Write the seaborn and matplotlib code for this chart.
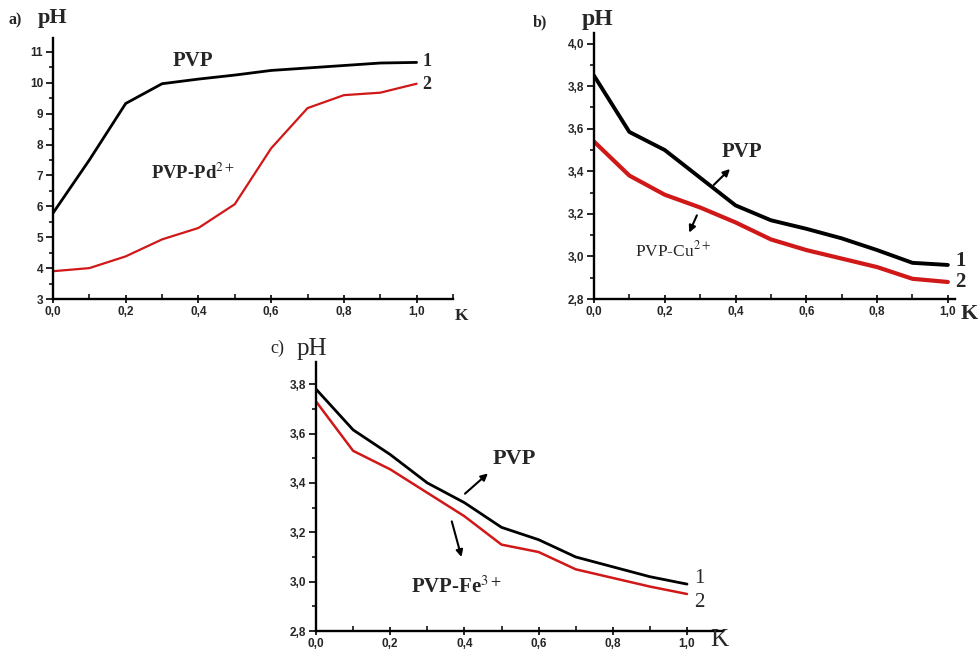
import numpy as np
import pandas as pd
import matplotlib
matplotlib.use("Agg")
import matplotlib.pyplot as plt
from matplotlib.ticker import MultipleLocator, FixedLocator, FixedFormatter
import seaborn as sns

# ---------------- data ----------------
K = [0.0, 0.1, 0.2, 0.3, 0.4, 0.5, 0.6, 0.7, 0.8, 0.9, 1.0]

a_pvp = [5.78, 7.50, 9.33, 9.97, 10.12, 10.25, 10.40, 10.48, 10.56, 10.64, 10.66]
a_pd = [3.90, 4.00, 4.38, 4.93, 5.30, 6.07, 7.88, 9.18, 9.60, 9.68, 9.97]

b_pvp = [3.85, 3.585, 3.50, 3.37, 3.24, 3.17, 3.13, 3.085, 3.03, 2.97, 2.96]
b_cu = [3.54, 3.38, 3.29, 3.23, 3.16, 3.08, 3.03, 2.99, 2.95, 2.895, 2.88]

c_pvp = [3.78, 3.615, 3.515, 3.40, 3.32, 3.22, 3.17, 3.10, 3.06, 3.02, 2.99]
c_fe = [3.73, 3.53, 3.455, 3.36, 3.265, 3.15, 3.12, 3.05, 3.015, 2.98, 2.95]

x_major = [0.0, 0.2, 0.4, 0.6, 0.8, 1.0]
x_labels = ["0,0", "0,2", "0,4", "0,6", "0,8", "1,0"]
a_yticks = [3, 4, 5, 6, 7, 8, 9, 10, 11]
a_ylabels = ["3", "4", "5", "6", "7", "8", "9", "10", "11"]
bc_yticks = [2.8, 3.0, 3.2, 3.4, 3.6, 3.8, 4.0]
b_ylabels = ["2,8", "3,0", "3,2", "3,4", "3,6", "3,8", "4,0"]
c_yticks = [2.8, 3.0, 3.2, 3.4, 3.6, 3.8]
c_ylabels = ["2,8", "3,0", "3,2", "3,4", "3,6", "3,8"]

series_names = ["1", "2"]

sns.set_style("ticks")
plt.rcParams["font.family"] = ["Liberation Serif", "DejaVu Serif"]
plt.rcParams["mathtext.fontset"] = "stix"

BLACK = "#000000"
RED = "#d01818"
TICKFONT = dict(family="Liberation Sans", weight="bold", size=8.5)
SERIF = ["Liberation Serif", "DejaVu Serif"]

fig = plt.figure(figsize=(9.79, 6.52), dpi=100)

def make_df(y1, y2):
    return pd.DataFrame({
        "K": K + K,
        "pH": y1 + y2,
        "curve": [series_names[0]] * len(K) + [series_names[1]] * len(K),
    })

def style_axes(ax, xlim, ylim, yt, yl, ymin_step, xmax_tick):
    ax.set_xlim(*xlim)
    ax.set_ylim(*ylim)
    for s in ["top", "right"]:
        ax.spines[s].set_visible(False)
    for s in ["left", "bottom"]:
        ax.spines[s].set_linewidth(1.7)
        ax.spines[s].set_color("black")
    ax.xaxis.set_major_locator(FixedLocator(x_major))
    ax.xaxis.set_major_formatter(FixedFormatter(x_labels))
    ax.xaxis.set_minor_locator(FixedLocator([0.1, 0.3, 0.5, 0.7, 0.9] + ([1.1] if xmax_tick else [])))
    ax.yaxis.set_major_locator(FixedLocator(yt))
    ax.yaxis.set_major_formatter(FixedFormatter(yl))
    ax.yaxis.set_minor_locator(MultipleLocator(ymin_step))
    ax.tick_params(axis="x", which="major", direction="inout", length=6, width=1.4, pad=2)
    ax.tick_params(axis="x", which="minor", direction="in", length=3.5, width=1.3)
    ax.tick_params(axis="y", which="major", direction="out", length=5, width=1.4, pad=2)
    ax.tick_params(axis="y", which="minor", direction="out", length=3, width=1.3)
    for lab in ax.get_xticklabels() + ax.get_yticklabels():
        lab.set_fontfamily(TICKFONT["family"])
        lab.set_fontweight(TICKFONT["weight"])
        lab.set_fontsize(TICKFONT["size"])
    ax.set_xlabel("")
    ax.set_ylabel("")
    leg = ax.get_legend()
    if leg is not None:
        leg.remove()

# ---------- panel a ----------
ax_a = fig.add_axes([0.0541, 0.5414, 0.4086, 0.4003])
sns.lineplot(data=make_df(a_pvp, a_pd), x="K", y="pH", hue="curve",
             palette={"1": BLACK, "2": RED}, ax=ax_a, legend=False)
ax_a.lines[0].set_linewidth(2.0)
ax_a.lines[1].set_linewidth(1.6)
style_axes(ax_a, (0, 1.1), (3, 11.45), a_yticks, a_ylabels, 0.5, True)
ax_a.text(0.385, 10.72, "PVP", ha="center", va="center", fontsize=15, fontweight="bold", family=SERIF)
ax_a.text(0.385, 7.1, r"PVP-Pd$^{2+}$", ha="center", va="center", fontsize=13.5, fontweight="bold", family=SERIF)
ax_a.text(1.015, 10.7, "1", ha="left", va="center", fontsize=13, fontweight="bold", family=SERIF)
ax_a.text(1.015, 9.95, "2", ha="left", va="center", fontsize=13, fontweight="bold", family=SERIF)
fig.text(9 / 979, 1 - 20 / 652, "a)", ha="left", va="center", fontsize=11.5, fontweight="bold", family=SERIF)
fig.text(38 / 979, 1 - 18 / 652, "pH", ha="left", va="center", fontsize=16, fontweight="bold", family=SERIF)
fig.text(461 / 979, 1 - 316 / 652, "K", ha="center", va="center", fontsize=12.5, fontweight="bold", family=SERIF)

# ---------- panel b ----------
ax_b = fig.add_axes([0.6067, 0.5414, 0.3687, 0.408])
sns.lineplot(data=make_df(b_pvp, b_cu), x="K", y="pH", hue="curve",
             palette={"1": BLACK, "2": RED}, ax=ax_b, legend=False)
ax_b.lines[0].set_linewidth(2.8)
ax_b.lines[1].set_linewidth(3.0)
style_axes(ax_b, (0, 1.02), (2.8, 4.05), bc_yticks, b_ylabels, 0.1, False)
ax_b.text(0.418, 3.49, "PVP", ha="center", va="center", fontsize=15, fontweight="bold", family=SERIF)
ax_b.annotate("", xy=(0.39, 3.42), xytext=(0.333, 3.327),
              arrowprops=dict(arrowstyle="-|>", color="black", lw=1.5, mutation_scale=10))
ax_b.text(0.223, 3.03, r"PVP-Cu$^{2+}$", ha="center", va="center", fontsize=12.5, family=SERIF)
ax_b.annotate("", xy=(0.266, 3.10), xytext=(0.294, 3.205),
              arrowprops=dict(arrowstyle="-|>", color="black", lw=1.5, mutation_scale=10))
ax_b.text(1.022, 2.98, "1", ha="left", va="center", fontsize=15, fontweight="bold", family=SERIF, clip_on=False)
ax_b.text(1.022, 2.88, "2", ha="left", va="center", fontsize=15, fontweight="bold", family=SERIF, clip_on=False)
fig.text(533 / 979, 1 - 22 / 652, "b)", ha="left", va="center", fontsize=11.5, fontweight="bold", family=SERIF)
fig.text(582 / 979, 1 - 20 / 652, "pH", ha="left", va="center", fontsize=17, fontweight="bold", family=SERIF)
fig.text(969 / 979, 1 - 314 / 652, "K", ha="center", va="center", fontsize=16, fontweight="bold", family=SERIF)

# ---------- panel c ----------
ax_c = fig.add_axes([0.3228, 0.0322, 0.4157, 0.4126])
sns.lineplot(data=make_df(c_pvp, c_fe), x="K", y="pH", hue="curve",
             palette={"1": BLACK, "2": RED}, ax=ax_c, legend=False)
ax_c.lines[0].set_linewidth(2.0)
ax_c.lines[1].set_linewidth(1.8)
style_axes(ax_c, (0, 1.097), (2.8, 3.89), c_yticks, c_ylabels, 0.1, True)
ax_c.text(0.534, 3.495, "PVP", ha="center", va="center", fontsize=16, fontweight="bold", family=SERIF)
ax_c.annotate("", xy=(0.469, 3.446), xytext=(0.396, 3.349),
              arrowprops=dict(arrowstyle="-|>", color="black", lw=1.5, mutation_scale=10))
ax_c.text(0.377, 2.979, r"PVP-Fe$^{3+}$", ha="center", va="center", fontsize=15, fontweight="bold", family=SERIF)
ax_c.annotate("", xy=(0.394, 3.089), xytext=(0.364, 3.255),
              arrowprops=dict(arrowstyle="-|>", color="black", lw=1.5, mutation_scale=10))
ax_c.text(1.02, 3.011, "1", ha="left", va="center", fontsize=15, family=SERIF)
ax_c.text(1.02, 2.914, "2", ha="left", va="center", fontsize=15, family=SERIF)
fig.text(270 / 979, 1 - 348 / 652, "c)", ha="left", va="center", fontsize=13, family=SERIF)
fig.text(297 / 979, 1 - 349 / 652, "pH", ha="left", va="center", fontsize=18, family=SERIF)
fig.text(719 / 979, 1 - 640 / 652, "K", ha="center", va="center", fontsize=18, family=SERIF)

fig.savefig("out.png", dpi=100, facecolor="white")
